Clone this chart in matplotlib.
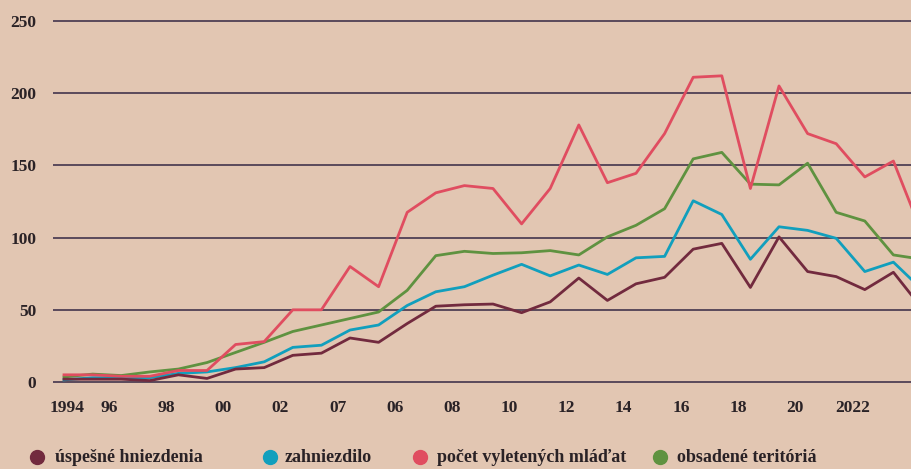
import matplotlib.pyplot as plt
from matplotlib.lines import Line2D

# --- Données (lecture du graphique) ---
years = list(range(1994, 2025))
uspesne = [2, 2, 2, 1, 5, 2.5, 9, 10, 18.5, 20, 30.5, 27.5, 40.5, 52.5, 53.5, 54,
           48, 55.5, 72, 56.5, 68, 72.5, 92, 96, 65.5, 100.5, 76.5, 73, 64, 76, 51]
zahniezdilo = [1.5, 3, 3, 3, 6, 7, 10, 14, 24, 25.5, 36, 39.5, 53, 62.5, 66, 74,
               81.5, 73.5, 81, 74.5, 86, 87, 125.5, 116, 85, 107.5, 105, 99.5, 76.5, 83, 64]
pocet = [5, 5, 4, 4, 8, 8, 26, 28, 50, 50, 80, 66, 117.5, 131, 136, 134,
         109.5, 134, 178, 138, 144.5, 172, 211, 212, 134, 205, 172, 165, 142, 153, 103]
obsadene = [3.5, 5.5, 4.5, 7, 9, 13.5, 20.5, 27.5, 35, 39.5, 44, 48.5, 63.5, 87.5, 90.5, 89,
            89.5, 91, 88, 100.5, 108.5, 120, 154.5, 159, 137, 136.5, 151.5, 117.5, 111.5, 88, 85]

tick_labels = ["1994", "96", "98", "00", "02", "07", "06", "08", "10", "12",
               "14", "16", "18", "20", "2022"]
y_ticks = [0, 50, 100, 150, 200, 250]
legend_labels = ["úspešné hniezdenia", "zahniezdilo", "počet vyletených mláďat", "obsadené teritóriá"]

# --- Style ---
bg = "#e2c6b2"
txt = "#2a2226"
grid_c = "#4f3f54"
c_usp, c_zah, c_poc, c_obs = "#722a3e", "#119fbd", "#e04d60", "#5f9240"

plt.rcParams['font.family'] = ['Liberation Serif', 'DejaVu Serif']
plt.rcParams['font.weight'] = 'bold'

fig = plt.figure(figsize=(9.11, 4.69), dpi=100, facecolor=bg)
ax = fig.add_axes([53 / 911, 0.170, 858 / 911, 0.810], facecolor=bg)

for v in y_ticks:
    ax.axhline(v, color=grid_c, lw=1.3, zorder=1)

ax.plot(years, obsadene, color=c_obs, lw=2.0, zorder=3)
ax.plot(years, zahniezdilo, color=c_zah, lw=2.0, zorder=4)
ax.plot(years, pocet, color=c_poc, lw=2.0, zorder=5)
ax.plot(years, uspesne, color=c_usp, lw=2.0, zorder=6)

ax.set_xlim(1994 - 11 / 28.6, 1994 + 847 / 28.6)
ax.set_ylim(-5, 258)

# labels de l'axe X décalés comme dans l'original
tick_pos = [1994.1] + [y - 0.43 for y in range(1996, 2024, 2)]
ax.set_xticks(tick_pos)
ax.set_xticklabels(tick_labels)
ax.set_yticks(y_ticks)
ax.tick_params(axis='x', length=0, pad=8, labelsize=12.5, labelcolor=txt)
ax.tick_params(axis='y', length=0, pad=12, labelsize=12.5, labelcolor=txt)
for s in ax.spines.values():
    s.set_visible(False)

# --- Légende manuelle ---
leg_y = 12 / 469
marker_x = [37, 270, 420, 660]
text_x = [55, 285, 437, 677]
for mx, tx, lab, col in zip(marker_x, text_x, legend_labels, [c_usp, c_zah, c_poc, c_obs]):
    fig.add_artist(Line2D([mx / 911], [leg_y], marker='o', markersize=10, color=col,
                          linestyle='none', transform=fig.transFigure))
    fig.text(tx / 911, leg_y, lab, ha='left', va='center', fontsize=13,
             color=txt, fontweight='bold')

fig.savefig("out.png", dpi=100, facecolor=bg)
